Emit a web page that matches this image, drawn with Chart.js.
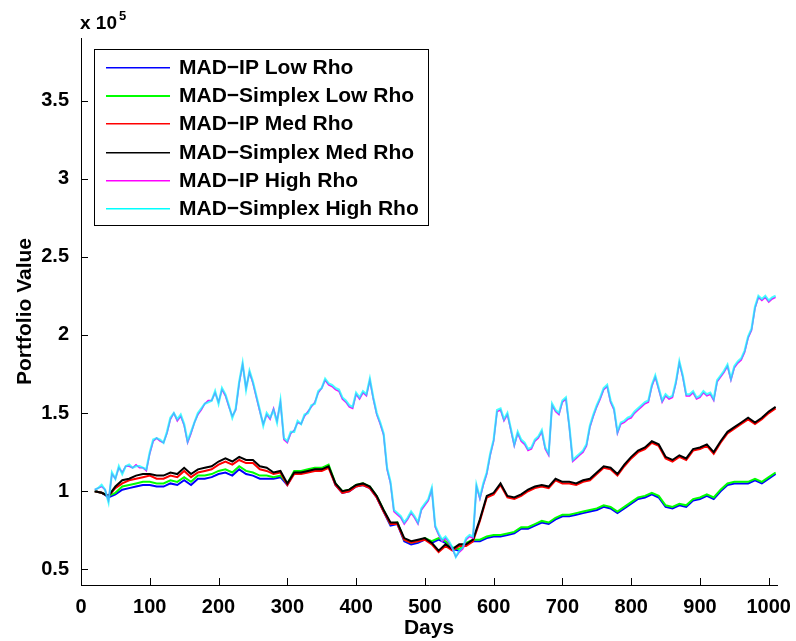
<!DOCTYPE html>
<html>
<head>
<meta charset="utf-8">
<title>Portfolio Value</title>
<script src="https://cdn.jsdelivr.net/npm/chart.js@4.4.0/dist/chart.umd.min.js"></script>
<style>
  html, body { margin: 0; padding: 0; background: #fff; }
</style>
</head>
<body>
<canvas id="chart" width="796" height="641"></canvas>
<script>
// values are in units of 10^5
// high rho series sampled every 5 days, low/med every 10 days (day 20..1010)
var high_simplex = [
  1.01,1.02,1.04,1.01,0.93,1.12,1.08,1.16,1.11,1.16,1.17,1.15,1.16,1.16,1.15,1.14,1.25,1.33,1.34,1.33,
  1.31,1.38,1.47,1.50,1.46,1.49,1.43,1.32,1.38,1.44,1.50,1.53,1.56,1.57,1.58,1.64,1.56,1.66,1.62,1.55,
  1.47,1.53,1.70,1.82,1.65,1.77,1.70,1.61,1.52,1.42,1.50,1.47,1.52,1.44,1.58,1.34,1.32,1.38,1.38,1.45,
  1.43,1.49,1.50,1.55,1.56,1.64,1.66,1.72,1.69,1.68,1.66,1.65,1.60,1.58,1.55,1.54,1.63,1.60,1.64,1.62,
  1.72,1.60,1.50,1.44,1.37,1.15,1.06,0.88,0.86,0.84,0.80,0.83,0.87,0.84,0.80,0.89,0.92,0.95,1.02,0.78,
  0.73,0.69,0.71,0.68,0.64,0.58,0.62,0.64,0.70,0.72,0.71,1.04,0.96,1.05,1.12,1.24,1.33,1.52,1.53,1.46,
  1.50,1.40,1.30,1.38,1.33,1.31,1.27,1.28,1.33,1.35,1.39,1.28,1.24,1.56,1.52,1.50,1.58,1.60,1.42,1.20,
  1.22,1.24,1.26,1.30,1.42,1.49,1.55,1.60,1.66,1.68,1.58,1.53,1.38,1.44,1.45,1.47,1.48,1.51,1.53,1.55,
  1.57,1.58,1.68,1.74,1.66,1.58,1.62,1.60,1.61,1.70,1.83,1.74,1.62,1.62,1.64,1.60,1.61,1.64,1.62,1.63,
  1.59,1.71,1.74,1.77,1.81,1.72,1.80,1.83,1.85,1.90,1.99,2.04,2.18,2.25,2.23,2.25,2.22,2.24,2.25
];
var high_ip = [
  1.01,1.02,1.03,1.01,0.94,1.11,1.08,1.15,1.12,1.16,1.16,1.15,1.17,1.15,1.15,1.13,1.24,1.32,1.34,1.32,
  1.31,1.37,1.46,1.50,1.45,1.48,1.42,1.31,1.37,1.44,1.49,1.52,1.56,1.58,1.58,1.63,1.57,1.65,1.61,1.54,
  1.48,1.52,1.69,1.81,1.66,1.76,1.69,1.60,1.51,1.43,1.49,1.46,1.53,1.45,1.57,1.33,1.31,1.37,1.39,1.44,
  1.43,1.48,1.51,1.54,1.57,1.63,1.66,1.71,1.68,1.67,1.65,1.64,1.59,1.57,1.54,1.53,1.62,1.59,1.63,1.61,
  1.71,1.59,1.49,1.43,1.36,1.14,1.05,0.87,0.85,0.83,0.79,0.82,0.86,0.83,0.79,0.88,0.91,0.94,1.01,0.77,
  0.72,0.68,0.70,0.67,0.63,0.58,0.61,0.63,0.69,0.71,0.70,1.03,0.95,1.04,1.11,1.23,1.32,1.51,1.52,1.45,
  1.49,1.39,1.29,1.37,1.32,1.30,1.26,1.27,1.32,1.34,1.38,1.27,1.23,1.55,1.51,1.49,1.57,1.59,1.41,1.19,
  1.21,1.23,1.25,1.29,1.41,1.48,1.54,1.59,1.65,1.67,1.57,1.52,1.37,1.43,1.44,1.46,1.47,1.50,1.52,1.54,
  1.56,1.57,1.67,1.73,1.65,1.57,1.61,1.59,1.60,1.69,1.82,1.73,1.61,1.61,1.63,1.59,1.60,1.63,1.61,1.62,
  1.58,1.70,1.73,1.76,1.80,1.71,1.79,1.82,1.84,1.89,1.98,2.03,2.17,2.24,2.22,2.24,2.21,2.23,2.24
];
var med_simplex = [
  1.00,0.99,0.97,1.03,1.07,1.08,1.10,1.11,1.11,1.10,
  1.10,1.12,1.11,1.15,1.11,1.14,1.15,1.16,1.19,1.21,
  1.19,1.22,1.20,1.20,1.16,1.15,1.12,1.13,1.05,1.12,
  1.12,1.13,1.14,1.14,1.16,1.05,1.00,1.01,1.04,1.05,
  1.03,0.97,0.88,0.80,0.80,0.70,0.68,0.69,0.70,0.67,
  0.62,0.66,0.63,0.66,0.66,0.69,0.82,0.97,0.99,1.05,
  0.97,0.96,0.98,1.01,1.03,1.04,1.03,1.08,1.06,1.06,
  1.05,1.07,1.08,1.12,1.16,1.15,1.11,1.17,1.22,1.26,
  1.28,1.32,1.30,1.22,1.20,1.23,1.21,1.27,1.28,1.30,
  1.25,1.32,1.38,1.41,1.44,1.47,1.44,1.47,1.51,1.54
];
var med_ip = [
  1.00,0.99,0.97,1.02,1.05,1.07,1.08,1.09,1.10,1.08,
  1.08,1.10,1.09,1.13,1.09,1.12,1.13,1.14,1.17,1.19,
  1.17,1.20,1.18,1.18,1.14,1.13,1.11,1.12,1.04,1.11,
  1.11,1.12,1.13,1.13,1.15,1.04,0.99,1.00,1.03,1.04,
  1.02,0.96,0.87,0.79,0.79,0.69,0.67,0.68,0.69,0.66,
  0.61,0.65,0.62,0.65,0.65,0.68,0.81,0.96,0.98,1.04,
  0.96,0.95,0.97,1.00,1.02,1.03,1.02,1.07,1.05,1.05,
  1.04,1.06,1.07,1.11,1.15,1.14,1.10,1.16,1.21,1.25,
  1.27,1.31,1.29,1.21,1.19,1.22,1.20,1.26,1.27,1.29,
  1.24,1.31,1.37,1.40,1.43,1.46,1.43,1.46,1.50,1.53
];
var low_simplex = [
  1.00,0.99,0.97,0.99,1.03,1.04,1.05,1.06,1.06,1.05,
  1.05,1.07,1.06,1.09,1.06,1.10,1.10,1.11,1.13,1.14,
  1.12,1.16,1.13,1.12,1.10,1.10,1.09,1.10,1.05,1.13,
  1.13,1.14,1.15,1.15,1.17,1.05,1.00,1.01,1.04,1.05,
  1.03,0.97,0.88,0.79,0.80,0.69,0.67,0.68,0.70,0.68,
  0.70,0.68,0.64,0.63,0.67,0.69,0.69,0.71,0.72,0.72,
  0.73,0.74,0.77,0.77,0.79,0.81,0.80,0.83,0.85,0.85,
  0.86,0.87,0.88,0.89,0.91,0.90,0.87,0.90,0.93,0.96,
  0.97,0.99,0.97,0.91,0.90,0.92,0.91,0.95,0.96,0.98,
  0.96,1.01,1.05,1.06,1.06,1.06,1.08,1.06,1.09,1.12
];
var low_ip = [
  1.00,0.99,0.96,0.98,1.01,1.02,1.03,1.04,1.04,1.03,
  1.03,1.05,1.04,1.07,1.04,1.08,1.08,1.09,1.11,1.12,
  1.10,1.14,1.11,1.10,1.08,1.08,1.08,1.09,1.04,1.12,
  1.12,1.13,1.14,1.14,1.16,1.04,0.99,1.00,1.03,1.04,
  1.02,0.96,0.87,0.78,0.79,0.68,0.66,0.67,0.69,0.67,
  0.69,0.67,0.63,0.62,0.66,0.68,0.68,0.70,0.71,0.71,
  0.72,0.73,0.76,0.76,0.78,0.80,0.79,0.82,0.84,0.84,
  0.85,0.86,0.87,0.88,0.90,0.89,0.86,0.89,0.92,0.95,
  0.96,0.98,0.96,0.90,0.89,0.91,0.90,0.94,0.95,0.97,
  0.95,1.00,1.04,1.05,1.05,1.05,1.07,1.05,1.08,1.11
];
var series_labels = ['MAD\u2212IP Low Rho', 'MAD\u2212Simplex Low Rho', 'MAD\u2212IP Med Rho',
                     'MAD\u2212Simplex Med Rho', 'MAD\u2212IP High Rho', 'MAD\u2212Simplex High Rho'];
var series_colors = ['#0000ff', '#00ff00', '#ff0000', '#000000', '#ff00ff', '#00ffff'];
// the cyan line sits on the magenta one, a bit transparent so it reads light blue like the original
var line_colors = ['#0000ff', '#00ff00', '#ff0000', '#000000', '#ff00ff', 'rgba(0,255,255,0.72)'];
var line_widths = [2, 2, 2, 2, 1.5, 2.2];
var x_ticks = [0, 100, 200, 300, 400, 500, 600, 700, 800, 900, 1000];
var y_ticks = [0.5, 1, 1.5, 2, 2.5, 3, 3.5];

// pair each value with its day
function toPoints(values, firstDay, step) {
    return values.map(function(v, i) {
        return { x: firstDay + i * step, y: v };
    });
}

var all_values = [low_ip, low_simplex, med_ip, med_simplex, high_ip, high_simplex];
var steps = [10, 10, 10, 10, 5, 5];

var datasets = all_values.map(function(vals, i) {
    return {
        label: series_labels[i],
        data: toPoints(vals, 20, steps[i]),
        borderColor: line_colors[i],
        backgroundColor: line_colors[i],
        borderWidth: line_widths[i],
        pointRadius: 0,
        tension: 0,
        fill: false,
        order: 5 - i
    };
});

var boldFont = { family: 'Liberation Sans, Arial, Helvetica, sans-serif', size: 20, weight: 'bold' };
var titleFont = { family: 'Liberation Sans, Arial, Helvetica, sans-serif', size: 21, weight: 'bold' };

// draws MATLAB-like inward ticks, the legend box and the exponent label
var matlabDecor = {
    id: 'matlabDecor',
    afterDraw: function(chart) {
        var ctx = chart.ctx;
        var xs = chart.scales.x, ys = chart.scales.y;
        var area = chart.chartArea;
        ctx.save();
        ctx.strokeStyle = '#000';
        ctx.lineWidth = 1;
        ctx.beginPath();
        xs.ticks.forEach(function(t) {
            var px = Math.round(xs.getPixelForValue(t.value)) + 0.5;
            ctx.moveTo(px, area.bottom);
            ctx.lineTo(px, area.bottom - 7);
        });
        ys.ticks.forEach(function(t) {
            var py = Math.round(ys.getPixelForValue(t.value)) + 0.5;
            ctx.moveTo(area.left, py);
            ctx.lineTo(area.left + 7, py);
        });
        ctx.stroke();

        // legend
        var lx = 94.5, ly = 49.5, lw = 334, lh = 176;
        ctx.fillStyle = '#fff';
        ctx.fillRect(lx, ly, lw, lh);
        ctx.strokeStyle = '#000';
        ctx.strokeRect(lx, ly, lw, lh);
        ctx.font = 'bold 21px Liberation Sans, Arial, sans-serif';
        ctx.textBaseline = 'middle';
        ctx.textAlign = 'left';
        series_labels.forEach(function(label, i) {
            var rowY = Math.round(67 + i * 28.2);
            ctx.fillStyle = series_colors[i];
            ctx.fillRect(106, rowY, 64, i === 1 ? 2 : 1.5);
            ctx.fillStyle = '#000';
            ctx.fillText(label, 179, rowY + 1);
        });

        // exponent label
        ctx.fillStyle = '#000';
        ctx.textBaseline = 'alphabetic';
        ctx.font = 'bold 19px Liberation Sans, Arial, sans-serif';
        ctx.fillText('x 10', 80, 29);
        ctx.font = 'bold 13px Liberation Sans, Arial, sans-serif';
        ctx.fillText('5', 119, 20);
        ctx.restore();
    }
};

var ctx = document.getElementById('chart').getContext('2d');
var chart = new Chart(ctx, {
    type: 'line',
    data: { datasets: datasets },
    options: {
        responsive: false,
        animation: false,
        layout: { padding: { top: 38, right: 19, bottom: 0, left: 0 } },
        plugins: {
            legend: { display: false },
            tooltip: { enabled: false }
        },
        scales: {
            x: {
                type: 'linear',
                min: 0,
                max: 1012,
                afterBuildTicks: function(scale) {
                    scale.ticks = x_ticks.map(function(v) { return { value: v }; });
                },
                afterFit: function(scale) { scale.height = 56; },
                ticks: { font: boldFont, color: '#000', padding: 2, maxRotation: 0, autoSkip: false,
                         callback: function(v) { return String(v); } },
                grid: { display: false },
                border: { display: true, color: '#000', width: 1 },
                title: { display: true, text: 'Days', font: titleFont, color: '#000', padding: { top: 0, bottom: 0 } }
            },
            y: {
                type: 'linear',
                min: 0.4,
                max: 3.9,
                afterBuildTicks: function(scale) {
                    scale.ticks = y_ticks.map(function(v) { return { value: v }; });
                },
                afterFit: function(scale) { scale.width = 81; },
                ticks: { font: boldFont, color: '#000', padding: 4, callback: function(v) { return String(v); } },
                grid: { display: false },
                border: { display: true, color: '#000', width: 1 },
                title: { display: true, text: 'Portfolio Value', font: titleFont, color: '#000', padding: { top: 13, bottom: 0 } }
            }
        }
    },
    plugins: [matlabDecor]
});
</script>
</body>
</html>
